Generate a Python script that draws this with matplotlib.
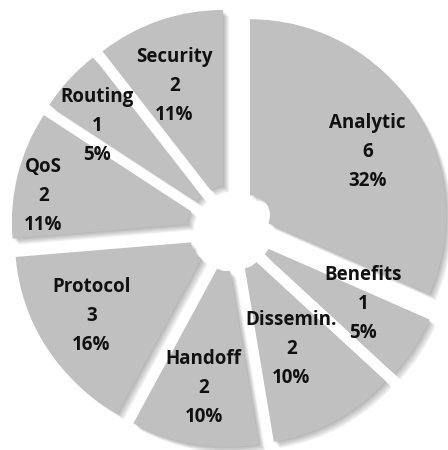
import numpy as np
import matplotlib.pyplot as plt

# data
categories = ['Analytic', 'Benefits', 'Dissemin.', 'Handoff', 'Protocol', 'QoS', 'Routing', 'Security']
counts = [6, 1, 2, 2, 3, 2, 1, 2]
pct_labels = ['32%', '5%', '10%', '10%', '16%', '11%', '5%', '11%']

# layout of the labels: radius (fraction of R) and angle shift from the slice middle
label_r = [0.68, 0.66, 0.57, 0.71, 0.72, 0.85, 0.74, 0.66]
label_dang = [-5, 4, -2, 0, -1, 5, 6, 3]

W, H = 448, 450
cx, cy = 230.5, 222
R = 196
hole = 20
gap = 23.3  # explode distance, data units

fig = plt.figure(figsize=(W / 100, H / 100), dpi=100)
ax = fig.add_axes([0, 0, 1, 1])

# soft shadow, stacked offset copies under the slices
for k in range(1, 8):
	ax.pie(counts, radius=R, center=(cx + k * 0.9, cy - k * 0.9),
		startangle=90, counterclock=False, explode=[gap] * len(counts),
		colors=['black'] * len(counts),
		wedgeprops=dict(width=R - hole, linewidth=0, alpha=0.045))

wedges, _ = ax.pie(counts, radius=R, center=(cx, cy), startangle=90, counterclock=False,
	explode=[gap] * len(counts), colors=['#c0c0c0'] * len(counts),
	wedgeprops=dict(width=R - hole, linewidth=0))

total = sum(counts)
cum = np.cumsum([0] + counts)
for i, name in enumerate(categories):
	mid = 90 - (cum[i] + cum[i + 1]) / 2 / total * 360
	sx = cx + gap * np.cos(np.radians(mid))
	sy = cy + gap * np.sin(np.radians(mid))
	a = np.radians(mid + label_dang[i])
	tx = sx + label_r[i] * R * np.cos(a)
	ty = sy + label_r[i] * R * np.sin(a)
	ax.text(tx, ty, '%s\n%d\n%s' % (name, counts[i], pct_labels[i]), ha='center', va='center',
		fontsize=13.5, fontweight='bold', family='Open Sans', linespacing=1.6, color='#111111')

ax.set_xlim(0, W)
ax.set_ylim(0, H)
ax.set_aspect('auto')
ax.axis('off')
plt.savefig('out.png', dpi=100)
